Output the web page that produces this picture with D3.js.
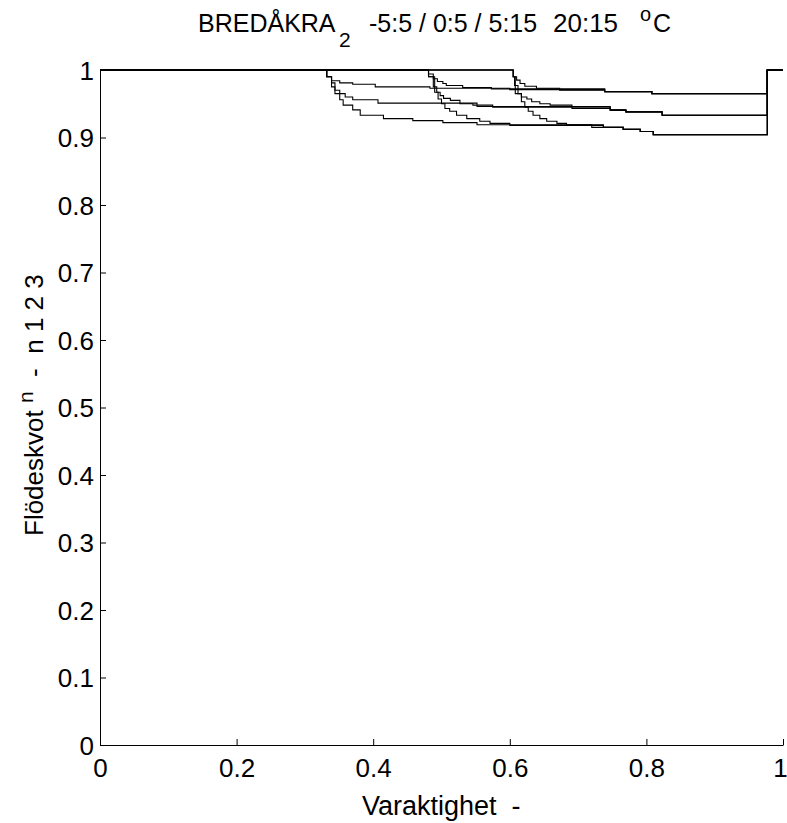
<!DOCTYPE html>
<html>
<head>
<meta charset="utf-8">
<script src="https://cdn.jsdelivr.net/npm/d3@7"></script>
<style>
  html, body { margin: 0; padding: 0; background: #fff; }
  svg text { font-family: "Liberation Sans", Arial, Helvetica, sans-serif; fill: #000; }
</style>
</head>
<body>
<svg id="chart" width="787" height="823"></svg>
<script>
// Duration curves of the flow ratio: three start groups (temperature ranges)
// times three exponents n = 1, 2, 3. Each series is a list of [duration, ratio]
// breakpoints, drawn as a step function.
const xTicks = [0, 0.2, 0.4, 0.6, 0.8, 1];
const yTicks = [0, 0.1, 0.2, 0.3, 0.4, 0.5, 0.6, 0.7, 0.8, 0.9, 1];

const endSteps = [[0.977, 1], [1, 1]];

// group -5:5
const g1n1 = [[0, 1], [0.332, 0.990], [0.339, 0.984], [0.351, 0.981], [0.370, 0.979], [0.403, 0.975],
  [0.483, 0.973], [0.600, 0.971], [0.739, 0.968], [0.808, 0.965]];
const g1n2 = [[0, 1], [0.332, 0.990], [0.339, 0.981], [0.344, 0.970], [0.351, 0.965], [0.359, 0.960],
  [0.370, 0.956], [0.407, 0.951], [0.552, 0.946], [0.747, 0.941], [0.770, 0.938], [0.823, 0.933]];
const g1n3 = [[0, 1], [0.332, 0.990], [0.339, 0.975], [0.344, 0.965], [0.351, 0.956], [0.356, 0.948],
  [0.370, 0.941], [0.381, 0.933], [0.415, 0.928], [0.458, 0.925], [0.502, 0.922], [0.552, 0.919],
  [0.737, 0.915], [0.766, 0.912], [0.791, 0.909], [0.810, 0.904]];

// group 0:5
const g2n1 = [[0, 1], [0.481, 0.994], [0.488, 0.987], [0.494, 0.983], [0.502, 0.980], [0.507, 0.977],
  [0.531, 0.974], [0.573, 0.972], [0.739, 0.968], [0.808, 0.965]];
const g2n2 = [[0, 1], [0.481, 0.990], [0.488, 0.975], [0.493, 0.967], [0.498, 0.962], [0.503, 0.958],
  [0.513, 0.955], [0.527, 0.950], [0.546, 0.948], [0.575, 0.945], [0.747, 0.941], [0.770, 0.938], [0.823, 0.933]];
const g2n3 = [[0, 1], [0.481, 0.990], [0.490, 0.967], [0.495, 0.957], [0.500, 0.950], [0.505, 0.943],
  [0.512, 0.939], [0.522, 0.933], [0.537, 0.928], [0.556, 0.924], [0.571, 0.921], [0.600, 0.918],
  [0.737, 0.915], [0.766, 0.912], [0.791, 0.909], [0.810, 0.904]];

// group 5:15
const g3n1 = [[0, 1], [0.605, 0.990], [0.610, 0.985], [0.615, 0.980], [0.622, 0.976], [0.639, 0.973],
  [0.673, 0.970], [0.739, 0.968], [0.808, 0.965]];
const g3n2 = [[0, 1], [0.605, 0.990], [0.607, 0.977], [0.612, 0.965], [0.617, 0.960], [0.625, 0.957],
  [0.632, 0.953], [0.644, 0.950], [0.659, 0.948], [0.691, 0.943], [0.747, 0.940], [0.770, 0.938], [0.823, 0.933]];
const g3n3 = [[0, 1], [0.605, 0.990], [0.608, 0.965], [0.617, 0.953], [0.622, 0.945], [0.627, 0.939],
  [0.634, 0.933], [0.644, 0.928], [0.654, 0.924], [0.669, 0.921], [0.683, 0.919], [0.720, 0.915],
  [0.766, 0.912], [0.791, 0.909], [0.810, 0.904]];

const series = [g1n1, g1n2, g1n3, g2n1, g2n2, g2n3, g3n1, g3n2, g3n3];

const svg = d3.select("#chart");
const x = d3.scaleLinear().domain([0, 1]).range([100, 783]);
const y = d3.scaleLinear().domain([0, 1]).range([745, 70]);

// curves
const line = d3.line()
  .x(d => x(d[0]))
  .y(d => y(d[1]))
  .curve(d3.curveStepAfter);

svg.append("g")
  .selectAll("path")
  .data(series)
  .join("path")
  .attr("d", d => line(d.concat(endSteps)))
  .attr("fill", "none")
  .attr("stroke", "#000")
  .attr("stroke-width", 1.1);

// axes (ticks point into the plot)
const fontSize = 26;
const xAxis = svg.append("g")
  .attr("transform", `translate(0,${y(0)})`)
  .call(d3.axisBottom(x).tickValues(xTicks).tickSizeInner(-6).tickSizeOuter(0)
    .tickFormat(d => d3.format("")(d)));
xAxis.select(".domain").attr("stroke", "#000");
xAxis.selectAll(".tick line").attr("stroke", "#000");
xAxis.selectAll(".tick text").attr("font-size", fontSize).attr("y", 14).attr("dy", "0.71em")
  .attr("dx", d => d === 1 ? -3 : 0);

const yAxis = svg.append("g")
  .attr("transform", `translate(${x(0)},0)`)
  .call(d3.axisLeft(y).tickValues(yTicks).tickSizeInner(-6).tickSizeOuter(0)
    .tickFormat(d => d3.format("")(+d.toFixed(1))));
yAxis.select(".domain").attr("stroke", "#000");
yAxis.selectAll(".tick line").attr("stroke", "#000");
yAxis.selectAll(".tick text").attr("font-size", fontSize).attr("x", -6).attr("dy", "0.36em");
svg.selectAll(".tick text").attr("font-family", "Liberation Sans, Arial, sans-serif");

// title, placed piece by piece
const titleParts = [
  { text: "BREDÅKRA", x: 198, y: 32, size: 25 },
  { text: "2", x: 339, y: 47, size: 21 },
  { text: "-5:5 / 0:5 / 5:15", x: 369, y: 32, size: 25 },
  { text: "20:15", x: 553, y: 32, size: 26 },
  { text: "o", x: 640, y: 21, size: 20 },
  { text: "C", x: 653, y: 32, size: 25 }
];
svg.append("g")
  .selectAll("text")
  .data(titleParts)
  .join("text")
  .attr("x", d => d.x)
  .attr("y", d => d.y)
  .attr("font-size", d => d.size)
  .text(d => d.text);

// x label
svg.append("text")
  .attr("x", 362).attr("y", 815)
  .attr("font-size", 27)
  .attr("xml:space", "preserve")
  .text("Varaktighet  -");

// y label
const ylab = svg.append("text")
  .attr("transform", "translate(43,536) rotate(-90)")
  .attr("font-size", 26)
  .attr("xml:space", "preserve");
ylab.append("tspan").text("Flödeskvot ");
ylab.append("tspan").attr("font-size", 21).attr("dy", -10).text("n");
ylab.append("tspan").attr("dy", 10).text("  -  n 1 2 3");
</script>
</body>
</html>
